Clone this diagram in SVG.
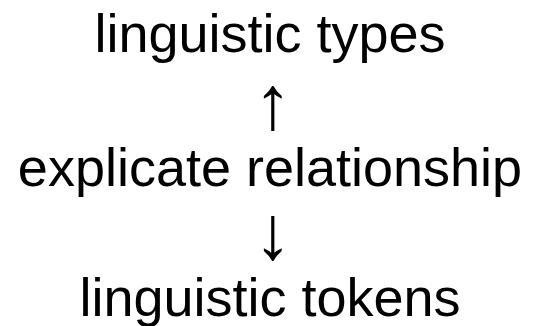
<svg xmlns="http://www.w3.org/2000/svg" width="533" height="326" viewBox="0 0 533 326">
<style>
text{font-family:"Liberation Sans",Arial,sans-serif;font-size:54px;fill:#000;text-anchor:middle}
.arrow{font-size:76px}
</style>
<rect width="533" height="326" fill="#fff"/>
<g id="types"><text x="270" y="52">linguistic types</text></g>
<g id="connectors">
<text class="arrow" x="273" y="129">↑</text>
<text class="arrow" x="273" y="259">↓</text>
</g>
<g id="relationship"><text x="270" y="186">explicate relationship</text></g>
<g id="tokens"><text x="270" y="316">linguistic tokens</text></g>
</svg>
